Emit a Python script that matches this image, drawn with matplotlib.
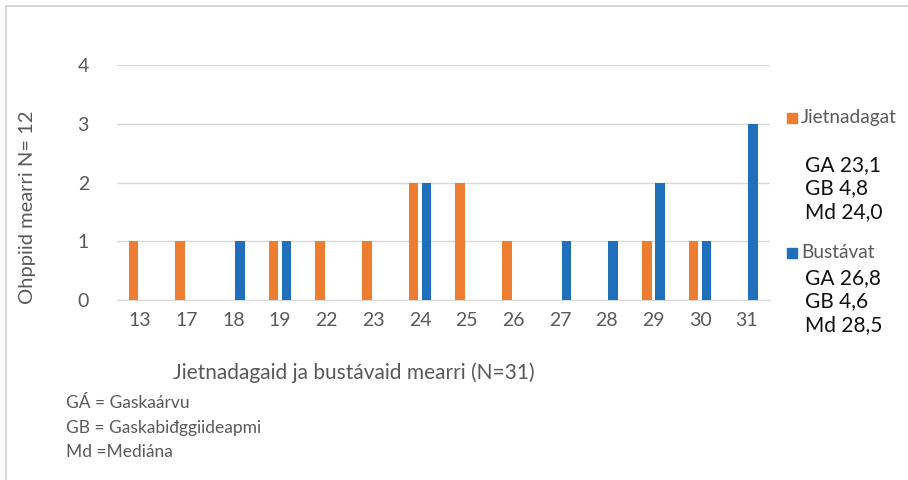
import matplotlib.pyplot as plt
import numpy as np
from matplotlib.patches import Rectangle

plt.rcParams['font.family'] = ['Lato', 'DejaVu Sans']

categories = ['13', '17', '18', '19', '22', '23', '24', '25', '26', '27',
              '28', '29', '30', '31']
jietnadagat = [1, 1, 0, 1, 1, 1, 2, 2, 1, 0, 0, 1, 1, 0]
bustavat = [0, 0, 1, 1, 0, 0, 2, 0, 0, 1, 1, 2, 1, 3]
series_names = ['Jietnadagat', 'Bustávat']
stats_jietnadagat = ['GA 23,1', 'GB 4,8', 'Md 24,0']
stats_bustavat = ['GA 26,8', 'GB 4,6', 'Md 28,5']
footnotes = ['GÁ = Gaskaárvu', 'GB = Gaskabiđggiideapmi', 'Md =Mediána']

ORANGE = '#ED7D31'
BLUE = '#1F6FBA'
GRAY = '#595959'
W, H = 908, 480

fig = plt.figure(figsize=(9.08, 4.8), dpi=100)
ax = fig.add_axes([116.7 / W, 1 - 300 / H, 653.3 / W, 235 / H])

x = np.arange(len(categories))
ax.bar(x - 0.14, jietnadagat, width=0.21, color=ORANGE, zorder=3)
ax.bar(x + 0.14, bustavat, width=0.21, color=BLUE, zorder=3)

ax.set_xlim(-0.5, len(categories) - 0.5)
ax.set_ylim(0, 4)
ax.set_yticks(range(5))
ax.set_xticks(x, labels=categories)
ax.grid(axis='y', color='#D9D9D9', linewidth=1, zorder=0)
for side in ['top', 'right', 'left']:
    ax.spines[side].set_visible(False)
ax.spines['bottom'].set_color('#D9D9D9')
ax.tick_params(length=0, labelsize=14, colors=GRAY)
ax.tick_params(axis='x', pad=9)
ax.tick_params(axis='y', pad=20)

fig.text(28 / W, 1 - 207 / H, 'Ohppiid mearri N= 12', rotation=90,
         ha='center', va='center', fontsize=14.5, color=GRAY)
fig.text(354 / W, 1 - 373 / H, 'Jietnadagaid ja bustávaid mearri (N=31)',
         ha='center', va='center', fontsize=15, color=GRAY)

for i, line in enumerate(footnotes):
    fig.text(66 / W, 1 - (403 + i * 24.5) / H, line, ha='left', va='center',
             fontsize=12.5, color=GRAY)

# legend with stats on the right
legend_rows = [(118, ORANGE, series_names[0], 165, stats_jietnadagat),
               (253, BLUE, series_names[1], 278, stats_bustavat)]
for y_lab, color, name, y_stat, stats in legend_rows:
    fig.patches.append(Rectangle((787 / W, 1 - (y_lab + 5) / H), 10 / W,
                                 10 / H, transform=fig.transFigure,
                                 color=color))
    fig.text(801 / W, 1 - y_lab / H, name, ha='left', va='center',
             fontsize=13.7, color=GRAY)
    for j, s in enumerate(stats):
        fig.text(805 / W, 1 - (y_stat + j * 23.5) / H, s, ha='left',
                 va='center', fontsize=15, color='#111111')

# outer frame
fig.patches.append(Rectangle((6 / W, -0.05), 1.0, 1 - 5.5 / H + 0.05,
                             transform=fig.transFigure, fill=False,
                             edgecolor='#D0D0D0', linewidth=1.2))

fig.savefig('out.png', dpi=100)
